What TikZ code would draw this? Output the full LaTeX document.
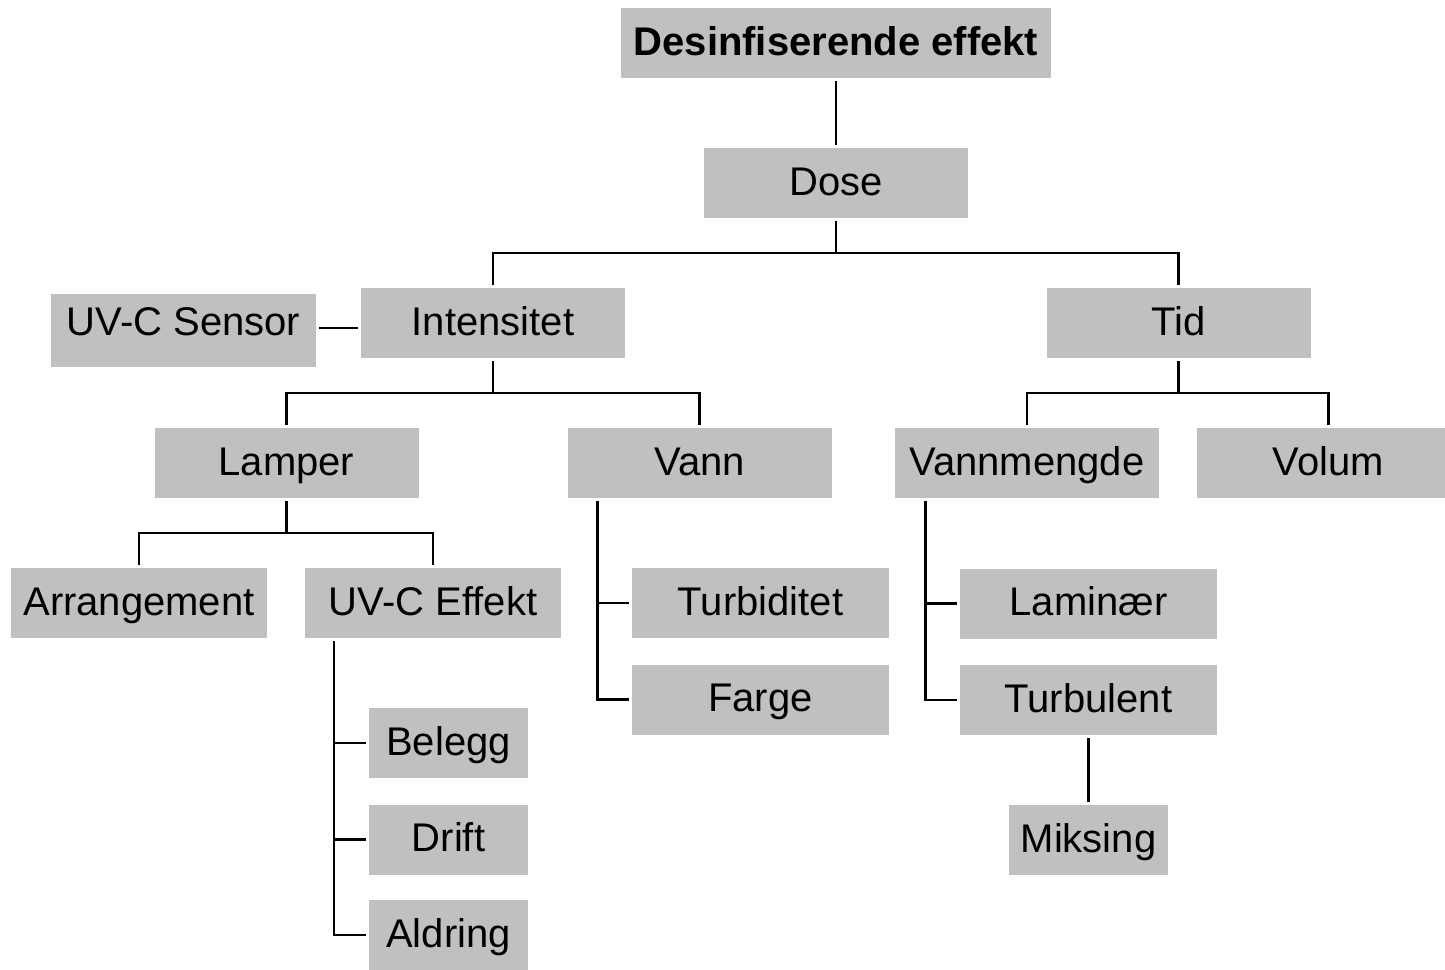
\documentclass[tikz,border=0pt]{standalone}
\usepackage{fontspec}
\setmainfont{Liberation Sans}
\begin{document}
\begin{tikzpicture}[x=0.5pt,y=-0.5pt,
  box/.style={draw=none,fill=boxgray,rectangle,inner sep=0pt,outer sep=1.5pt,
    minimum height=35pt,text height=14.3pt,text depth=2pt,
    font=\fontsize{20pt}{24pt}\selectfont},
  conn/.style={draw=black,line width=1.45pt,line join=miter}]
\definecolor{boxgray}{HTML}{C0C0C0}
\useasboundingbox (0,0) rectangle (1445,969);
\begin{scope}
\clip (0,0) rectangle (1445,969);
% nodes
\node[box,minimum width=215pt,font=\fontsize{20pt}{24pt}\selectfont\bfseries] (desinf) at (836,43) {Desinfiserende effekt};
\node[box,minimum width=132pt] (dose) at (836,183) {Dose};
\node[box,minimum width=132pt] (intens) at (493,323) {Intensitet};
\node[box,minimum width=132.5pt,minimum height=36.5pt,text depth=9pt] (sensor) at (183.5,330.5) {UV-C Sensor};
\node[box,minimum width=132pt] (tid) at (1178.5,323) {Tid};
\node[box,minimum width=132pt] (lamper) at (286.5,463) {Lamper};
\node[box,minimum width=132pt] (vann) at (699.5,463) {Vann};
\node[box,minimum width=132pt] (vmengde) at (1027,463) {Vannmengde};
\node[box,minimum width=131.5pt] (volum) at (1328.5,463) {Volum};
\node[box,minimum width=128pt] (arr) at (139,603) {Arrangement};
\node[box,minimum width=128pt] (uvce) at (433,603) {UV-C Effekt};
\node[box,minimum width=128.5pt] (turbid) at (760.5,603) {Turbiditet};
\node[box,minimum width=128.5pt] (farge) at (760.5,699.5) {Farge};
\node[box,minimum width=128.5pt] (lamin) at (1088.5,603.5) {Laminær};
\node[box,minimum width=128.5pt] (turbul) at (1088.5,700) {Turbulent};
\node[box,minimum width=79.5pt] (miks) at (1088.5,840) {Miksing};
\node[box,minimum width=79.5pt] (belegg) at (448.5,743) {Belegg};
\node[box,minimum width=79.5pt] (drift) at (448.5,839.5) {Drift};
\node[box,minimum width=79.5pt] (aldring) at (448.5,935) {Aldring};
% bar coordinates
\coordinate (b1) at (836,253);
\coordinate (b2) at (493,393);
\coordinate (b3) at (1178.5,393);
\coordinate (b4) at (286.5,533);
% connectors
\draw[conn] (desinf.south) -- (dose.north);
\draw[conn] (dose.south) -- (b1);
\draw[conn] (intens.north) |- (b1) -| (tid.north);
\coordinate (s1) at ([yshift=1.25pt]sensor.east);
\draw[conn] (s1) -- (s1 -| intens.west);
\draw[conn] (intens.south) -- (b2);
\draw[conn] (lamper.north) |- (b2) -| (vann.north);
\draw[conn] (tid.south) -- (b3);
\draw[conn] (vmengde.north) |- (b3) -| (volum.north);
\draw[conn] (lamper.south) -- (b4);
\draw[conn] (arr.north) |- (b4) -| (uvce.north);
% side branches
\coordinate (u1) at ([xshift=16pt]uvce.south west);
\draw[conn] (u1) |- (aldring.west);
\draw[conn] (u1 |- belegg.west) -- (belegg.west);
\draw[conn] (u1 |- drift.west) -- (drift.west);
\coordinate (u2) at ([xshift=16.5pt]vann.south west);
\draw[conn] (u2) |- (farge.west);
\draw[conn] (u2 |- turbid.west) -- (turbid.west);
\coordinate (u3) at ([xshift=16.75pt]vmengde.south west);
\draw[conn] (u3) |- (turbul.west);
\draw[conn] (u3 |- lamin.west) -- (lamin.west);
\draw[conn] (turbul.south) -- (miks.north);
\end{scope}
\end{tikzpicture}
\end{document}
